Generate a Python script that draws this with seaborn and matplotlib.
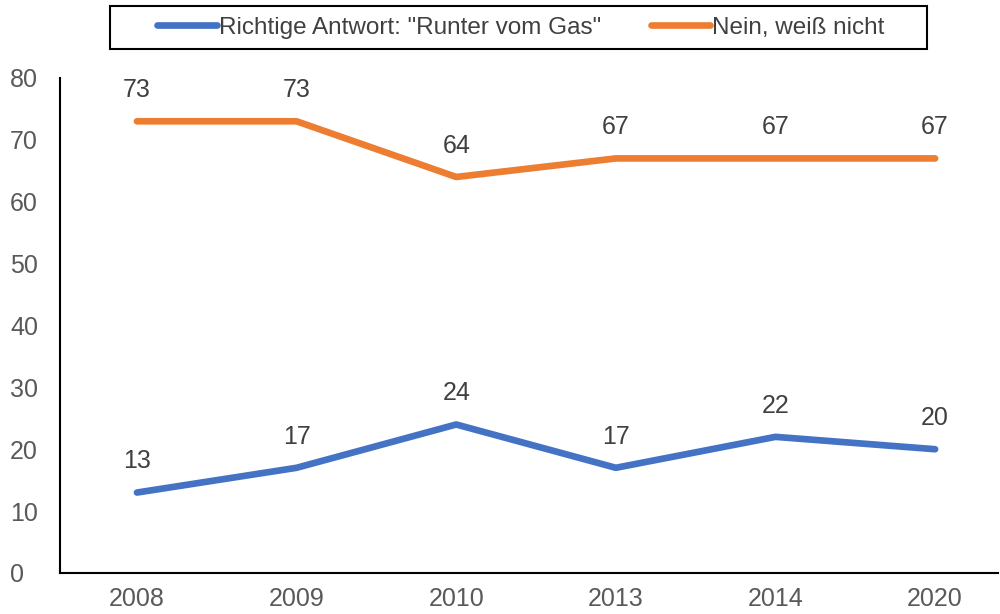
import matplotlib
matplotlib.use("Agg")
import matplotlib.pyplot as plt
from matplotlib.patches import Rectangle
import seaborn as sns
import pandas as pd

years = ["2008", "2009", "2010", "2013", "2014", "2020"]
richtig = [13, 17, 24, 17, 22, 20]
nein = [73, 73, 64, 67, 67, 67]
series_names = ['Richtige Antwort: "Runter vom Gas"', "Nein, weiß nicht"]
colors = ["#4472C4", "#ED7D31"]

sns.set_theme(style="white")
plt.rcParams["font.family"] = ["Liberation Sans", "DejaVu Sans"]

df = pd.DataFrame({
    "Jahr": years * 2,
    "Wert": richtig + nein,
    "Serie": [series_names[0]] * len(years) + [series_names[1]] * len(years),
})
df["pos"] = list(range(len(years))) * 2

fig = plt.figure(figsize=(10, 6.14), dpi=100)
ax = fig.add_axes([0.06, 0.0668, 0.938, 0.8062])

sns.lineplot(data=df, x="pos", y="Wert", hue="Serie", palette=colors,
             linewidth=4.8, ax=ax, solid_capstyle="round", legend=True)

for vals in (richtig, nein):
    for i, v in enumerate(vals):
        ax.annotate(str(v), (i, v), xytext=(0, 22.5), textcoords="offset points",
                    ha="center", va="center", fontsize=18, color="#404040")

ax.set_xlim(-0.482, 5.394)
ax.set_ylim(0, 80)
ax.set_xticks(range(len(years)))
ax.set_xticklabels(years)
ax.set_yticks(range(0, 81, 10))
ax.tick_params(axis="both", labelsize=18, colors="#595959", length=0)
ax.tick_params(axis="x", pad=10)
ax.tick_params(axis="y", pad=36)
for lbl in ax.get_yticklabels():
    lbl.set_horizontalalignment("left")
ax.set_xlabel("")
ax.set_ylabel("")

for side in ("top", "right"):
    ax.spines[side].set_visible(False)
for side in ("left", "bottom"):
    ax.spines[side].set_color("black")
    ax.spines[side].set_linewidth(1.5)

# legend entries without their own frame, framed by a wider box
handles, labels = ax.get_legend_handles_labels()
ax.legend_.remove()
leg = fig.legend(handles, labels, loc="center", bbox_to_anchor=(0.521, 0.9552),
                 ncol=2, fontsize=17.5, frameon=False,
                 handlelength=2.45, handletextpad=0.08, columnspacing=2.05,
                 borderpad=0, borderaxespad=0)
for t in leg.get_texts():
    t.set_color("#404040")
for h in leg.get_lines():
    h.set_solid_capstyle("round")

fig.patches.append(Rectangle((0.11, 0.9202), 0.817, 0.070, transform=fig.transFigure,
                             facecolor="none", edgecolor="black", linewidth=1.5))

fig.savefig("out.png", dpi=100)
